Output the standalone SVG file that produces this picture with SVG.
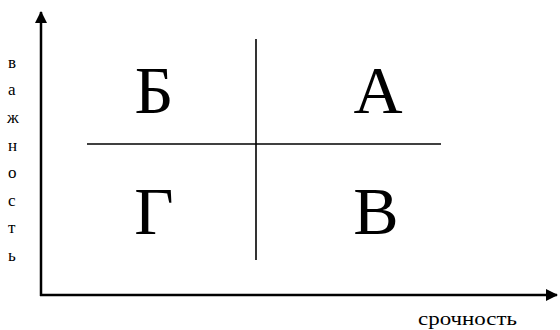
<svg xmlns="http://www.w3.org/2000/svg" width="560" height="330" viewBox="0 0 560 330">
<style>
.ax{stroke:#000;stroke-width:2.5;fill:none}
.ln{stroke:#000;stroke-width:1.6;fill:none}
text{fill:#000;font-family:'Liberation Serif','DejaVu Serif',serif}
.big{font-size:68px;text-anchor:middle}
.sm{font-size:17px}
</style>
<defs>
<marker id="arr" viewBox="0 0 12 12" refX="11" refY="6" markerWidth="12" markerHeight="12" markerUnits="userSpaceOnUse" orient="auto">
<path d="M0,0 L12,6 L0,12 Z" fill="#000"/>
</marker>
</defs>
<g id="connectors">
<line class="ax" x1="41" y1="296" x2="41" y2="12" marker-end="url(#arr)"/>
<line class="ax" x1="40" y1="295" x2="557" y2="295" marker-end="url(#arr)"/>
<line class="ln" x1="256" y1="39" x2="256" y2="260"/>
<line class="ln" x1="87" y1="144" x2="441" y2="144"/>
</g>
<g id="node-B"><text class="big" x="154" y="113">Б</text></g>
<g id="node-A"><text class="big" x="378" y="113">А</text></g>
<g id="node-G"><text class="big" x="154" y="234">Г</text></g>
<g id="node-V"><text class="big" x="376" y="234">В</text></g>
<g id="label-y">
<text class="sm" x="8" y="68">в</text>
<text class="sm" x="8" y="95">а</text>
<text class="sm" x="7" y="123">ж</text>
<text class="sm" x="8" y="151">н</text>
<text class="sm" x="8" y="178">о</text>
<text class="sm" x="8" y="206">с</text>
<text class="sm" x="8" y="233">т</text>
<text class="sm" x="8" y="261">ь</text>
</g>
<g id="label-x"><text class="sm" x="418" y="325" font-size="18" style="font-size:19px" textLength="99" lengthAdjust="spacingAndGlyphs">срочность</text></g>
</svg>
